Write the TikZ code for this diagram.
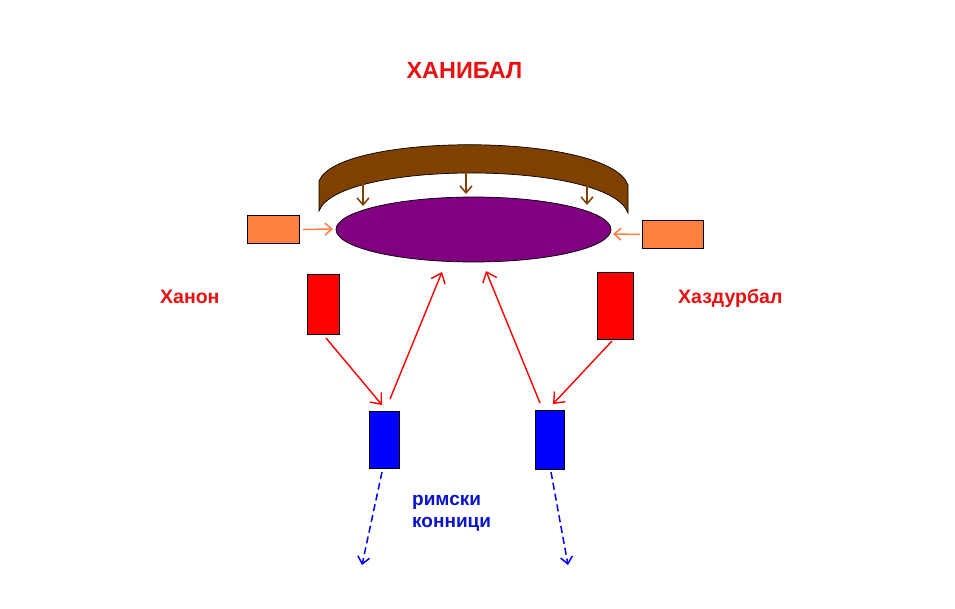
\documentclass[tikz,border=0pt]{standalone}
\usepackage{fontspec}
\setmainfont{Liberation Sans}
\usetikzlibrary{arrows.meta,shapes.geometric}
\definecolor{brownband}{HTML}{804000}
\definecolor{purp}{HTML}{800080}
\definecolor{orng}{HTML}{FF8040}
\definecolor{rd}{HTML}{FF0000}
\definecolor{bl}{HTML}{0000FF}
\definecolor{txtred}{HTML}{E81010}
\definecolor{txtblue}{HTML}{0A14C8}
\tikzset{
  box/.style={draw=black, line width=0.9pt, inner sep=0pt, anchor=north west},
  lbl/.style={font=\bfseries\fontsize{19.5}{23}\selectfont, inner sep=0pt},
  barb/.style={-{Straight Barb[length=9pt,width=15pt,line width=1.4pt]}, line width=1.4pt},
  barbs/.style={-{Straight Barb[length=7pt,width=12pt,line width=1.5pt]}, line width=1.5pt},
}
\begin{document}
\begin{tikzpicture}[x=1pt,y=-1pt]
\useasboundingbox[fill=white] (0,0) rectangle (955,609);
% title
\node[lbl, text=txtred, font=\bfseries\fontsize{23.4}{27}\selectfont] (title) at (464.5,71) {ХАНИБАЛ};
% brown band
\path[fill=brownband, draw=black, line width=0.7pt]
  (319,181) .. controls (338,132) and (609,132) .. (628,185)
  -- (628,213) .. controls (609,160) and (338,160) .. (319,211) -- cycle;
\coordinate (b1) at (363,182);
\coordinate (b2) at (466,172);
\coordinate (b3) at (587,184);
% ellipse
\node[draw=black, line width=0.7pt, fill=purp, ellipse, minimum width=275pt, minimum height=65pt, inner sep=0pt] (army) at (473.5,229.5) {};
% brown arrows
\draw[barbs, draw=brownband] (b1) -- (363,206);
\draw[barbs, draw=brownband] (b2) -- (466,194);
\draw[barbs, draw=brownband] (b3) -- (587,205);
% orange boxes
\node[box, fill=orng, minimum width=52pt, minimum height=28pt] (ol) at (247,215) {};
\node[box, fill=orng, minimum width=61pt, minimum height=28pt] (or) at (642,220) {};
\draw[barbs, draw=orng] (ol.east) ++(3,0) coordinate (olx) (olx) -- (333,229);
\draw[barbs, draw=orng] (or.west) ++(-2,0) coordinate (orx) (orx) -- (613,234);
% red boxes
\node[box, fill=rd, minimum width=32pt, minimum height=60pt] (rl) at (307,274) {};
\node[box, fill=rd, minimum width=36pt, minimum height=67pt] (rr) at (597,272) {};
% blue boxes
\node[box, fill=bl, minimum width=30pt, minimum height=57pt] (bll) at (369,411) {};
\node[box, fill=bl, minimum width=29pt, minimum height=59pt] (blr) at (535,410) {};
% red arrows
\coordinate (rlo) at (326,338);
\coordinate (bllt) at (382,405);
\coordinate (bllu) at (390,399);
\coordinate (armyl) at (442,272);
\coordinate (blru) at (540,403);
\coordinate (armyr) at (486,271);
\coordinate (rro) at (612,341);
\coordinate (blrt) at (553,404);
\draw[barb, draw=rd] (rlo) -- (bllt);
\draw[barb, draw=rd] (bllu) -- (armyl);
\draw[barb, draw=rd] (blru) -- (armyr);
\draw[barb, draw=rd] (rro) -- (blrt);
% blue dashed arrows
\coordinate (dl1) at (382,472);
\coordinate (dl2) at (362,565);
\coordinate (dr1) at (551,472);
\coordinate (dr2) at (568,565);
\draw[barbs, draw=bl, dash pattern=on 7pt off 4pt] (dl1) -- (dl2);
\draw[barbs, draw=bl, dash pattern=on 7pt off 4pt] (dr1) -- (dr2);
% labels
\node[lbl, text=txtred, anchor=west] (hanon) at (160,297) {Ханон};
\node[lbl, text=txtred, anchor=west] (hazd) at (678,298) {Хаздурбал};
\node[lbl, text=txtblue, anchor=north west, align=left, font=\bfseries\fontsize{19}{22.5}\selectfont] (rim) at (412,495) {римски\\конници};
\end{tikzpicture}
\end{document}
